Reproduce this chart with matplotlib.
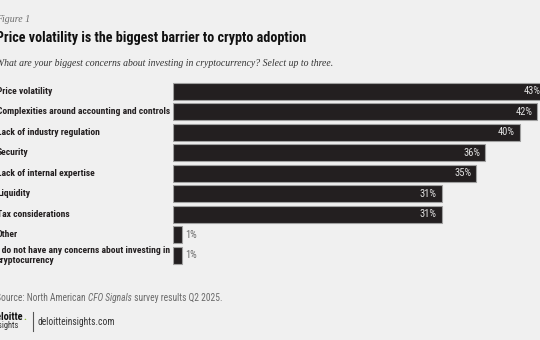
import matplotlib
matplotlib.use("Agg")
import matplotlib.pyplot as plt
import matplotlib.transforms as mtransforms
from matplotlib import font_manager

categories = [
    "Price volatility",
    "Complexities around accounting and controls",
    "Lack of industry regulation",
    "Security",
    "Lack of internal expertise",
    "Liquidity",
    "Tax considerations",
    "Other",
    "I do not have any concerns about investing in\ncryptocurrency",
]
values = [43, 42, 40, 36, 35, 31, 31, 1, 1]
value_labels = ["43%", "42%", "40%", "36%", "35%", "31%", "31%", "1%", "1%"]

W, H = 540, 340
BG = "#f0f0f0"
BAR = "#231f20"

# prefer a narrow sans if one is around, otherwise Roboto shrunk to width
installed = {f.name for f in font_manager.fontManager.ttflist}
NARROW = "Roboto"
for name in ["Roboto Condensed", "Liberation Sans Narrow", "Open Sans Condensed"]:
    if name in installed:
        NARROW = name
        break
SERIF = "Liberation Serif"

fig = plt.figure(figsize=(W / 100, H / 100), dpi=100, facecolor=BG)
renderer = fig.canvas.get_renderer()


def fx(px):
    return px / W


def fy(py):
    return 1 - py / H


def fit(text, width_px):
    # shrink / grow the font so the text spans width_px pixels
    w = text.get_window_extent(renderer).width
    text.set_fontsize(text.get_fontsize() * width_px / w)
    return text


def runs(x_px, y_px, parts, width_px, **kw):
    # several pieces of text on one line (e.g. one of them italic), fitted to width_px
    size = 7.0
    for i in range(3):
        x = fx(x_px)
        made = []
        for txt, style in parts:
            t = fig.text(x, fy(y_px), txt, ha="left", va="center", fontsize=size,
                         style=style, **kw)
            x = t.get_window_extent(renderer).x1 / W
            made.append(t)
        if i == 2:
            break
        total = x * W - x_px
        for t in made:
            t.remove()
        size *= width_px / total
    return made


ax_left, ax_right = 173, 540
ax_top, ax_bottom = 81, 265.5
ax = fig.add_axes([fx(ax_left), fy(ax_bottom), fx(ax_right - ax_left), (ax_bottom - ax_top) / H])
ax.set_facecolor(BG)
px_per_pct = 8.67
ax.set_xlim(0, (ax_right - ax_left) / px_per_pct)
ax.set_ylim(len(categories) - 0.5, -0.5)

ypos = list(range(len(categories)))
ax.barh(ypos, values, height=0.83, color=BAR, edgecolor="#a0a0a0", linewidth=0.8)

for y, v, lab in zip(ypos, values, value_labels):
    if v > 5:
        ax.annotate(lab, (v, y), xytext=(-3.5, 0), textcoords="offset points",
                    ha="right", va="center", color="#e2e2e2", fontsize=7.6,
                    family=NARROW, annotation_clip=False)
    else:
        ax.annotate(lab, (v, y), xytext=(2.5, 0), textcoords="offset points",
                    ha="left", va="center", color="#6a6a6a", fontsize=7.6,
                    family=NARROW, annotation_clip=False)

trans = mtransforms.blended_transform_factory(fig.transFigure, ax.transData)
cat_texts = []
for y, cat in zip(ypos, categories):
    t = ax.text(fx(-3), y, cat, transform=trans, ha="left", va="center",
                fontsize=7.5, fontweight="bold", color="#231f20", family=NARROW,
                linespacing=1.1)
    cat_texts.append(t)
# longest label ("Complexities ...") ends at about x=167
w = cat_texts[1].get_window_extent(renderer).width
size = 7.5 * 170 / w
for t in cat_texts:
    t.set_fontsize(size)

ax.set_xticks([])
ax.set_yticks([])
for s in ax.spines.values():
    s.set_visible(False)

t = fig.text(fx(-4), fy(19), "Figure 1", ha="left", va="center", fontsize=8.5,
             style="italic", color="#6a6a6a", family=SERIF)
fit(t, 34)
t = fig.text(fx(-4), fy(38), "Price volatility is the biggest barrier to crypto adoption",
             ha="left", va="center", fontsize=11.5, fontweight="heavy", color="#111111",
             family=NARROW)
fit(t, 309)
t = fig.text(fx(-4), fy(63),
             "What are your biggest concerns about investing in cryptocurrency? Select up to three.",
             ha="left", va="center", fontsize=7.2, style="italic", color="#333333", family=SERIF)
fit(t, 338)

runs(-4, 298, [("Source: North American ", "normal"), ("CFO Signals", "italic"),
               (" survey results Q2 2025.", "normal")], 229,
     color="#6a6a6a", family=NARROW)

# logo
d = fig.text(fx(-8), fy(317), "deloitte", ha="left", va="center", fontsize=6.3,
             fontweight="bold", color="#111111", family=NARROW)
fit(d, 32)
bbd = d.get_window_extent(renderer)
fig.text(bbd.x1 / W, fy(317), ".", ha="left", va="center", fontsize=d.get_fontsize(),
         fontweight="bold", color="#86bc25", family=NARROW)
ins = fig.text(fx(-8), fy(326), "insights", ha="left", va="center", fontsize=6.3,
               color="#333333", family=NARROW)
fit(ins, 27)
fig.add_artist(plt.Line2D([fx(33), fx(33)], [fy(312), fy(331)], color="#555555", linewidth=0.8))
t = fig.text(fx(38), fy(322), "deloitteinsights.com", ha="left", va="center", fontsize=8,
             color="#333333", family=NARROW)
fit(t, 77)

fig.savefig("out.png", dpi=100, facecolor=BG)
